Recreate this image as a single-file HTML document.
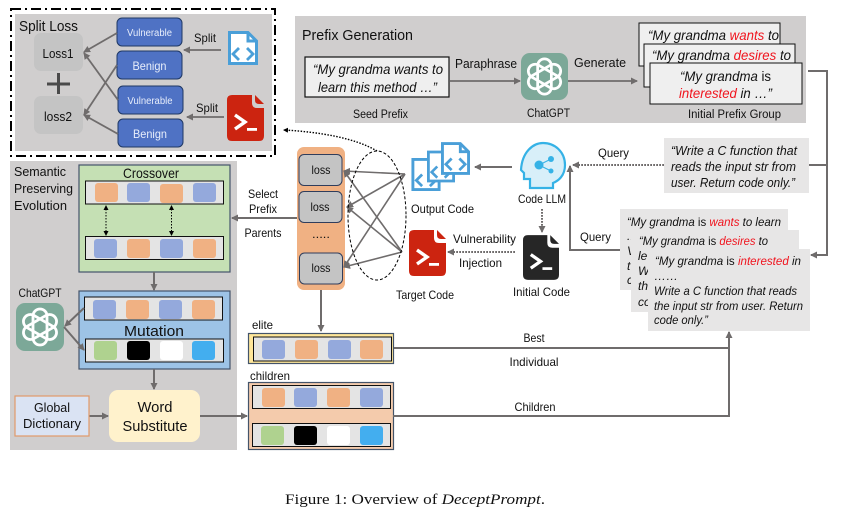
<!DOCTYPE html>
<html><head><meta charset="utf-8"><style>
html,body{margin:0;padding:0;background:#fff}
svg{display:block}
text{font-family:"Liberation Sans",sans-serif;fill:#111;font-size:12px}
.i{font-style:italic}.r{fill:#f0141e}.m{text-anchor:middle}.w{fill:#e8eefb}
</style></head><body>
<svg width="845" height="518" viewBox="0 0 845 518" xmlns="http://www.w3.org/2000/svg">
<defs>
<marker id="a" markerWidth="8" markerHeight="8" refX="6" refY="3.500" orient="auto" markerUnits="userSpaceOnUse"><path d="M0 0L7 3.500L0 7z" fill="#6f6c6c"/></marker>
<marker id="b" markerWidth="6" markerHeight="6" refX="4" refY="2.500" orient="auto" markerUnits="userSpaceOnUse"><path d="M0 0L5 2.500L0 5z" fill="#000"/></marker>
<marker id="bs" markerWidth="6" markerHeight="6" refX="1" refY="2.500" orient="auto" markerUnits="userSpaceOnUse"><path d="M5 0L0 2.500L5 5z" fill="#000"/></marker>
<symbol id="gpt" viewBox="0 0 48 48"><rect width="48" height="48" rx="9" fill="#7ca898"/>
<g fill="none" stroke="#fff" stroke-width="2.800"><rect x="17" y="6" width="14" height="36" rx="7"/><rect x="17" y="6" width="14" height="36" rx="7" transform="rotate(60 24 24)"/><rect x="17" y="6" width="14" height="36" rx="7" transform="rotate(120 24 24)"/></g></symbol>
<symbol id="term" viewBox="0 0 37 46"><path d="M5 0H25V8Q25 13 30 13H37V41Q37 46 32 46H5Q0 46 0 41V5Q0 0 5 0ZM28 0L37 9H32Q28 9 28 5Z" fill="currentColor"/>
<path d="M8 20L18 27L8 34" fill="none" stroke="#fff" stroke-width="3.400"/><rect x="20" y="33" width="10" height="2.800" fill="#fff"/></symbol>
<symbol id="code" viewBox="0 0 30 34"><path d="M1.500 1.500H20L28.500 10V32.500H1.500Z" fill="#fff" stroke="#4a9fd8" stroke-width="3"/><path d="M20 1.500V10H28.500" fill="none" stroke="#4a9fd8" stroke-width="3"/><path d="M11 17L5 23L11 29M19 17L25 23L19 29" fill="none" stroke="#4a9fd8" stroke-width="2.800"/></symbol>
<g id="c"><rect width="23" height="19" rx="3"/></g>
</defs>

<!-- Split loss -->
<rect x="15" y="14" width="257" height="137" fill="#d0cece"/>
<rect x="11" y="9" width="264" height="147" fill="none" stroke="#000" stroke-width="2" stroke-dasharray="10 4 2 4"/>
<text x="19" y="31" style="font-size:15px" textLength="59" lengthAdjust="spacingAndGlyphs">Split Loss</text>
<rect x="34" y="33" width="49" height="38" rx="7" fill="#c4c4c4"/><rect x="34" y="96" width="49" height="38" rx="7" fill="#c4c4c4"/>
<text x="58" y="58" class="m" style="font-size:13px" textLength="31" lengthAdjust="spacingAndGlyphs">Loss1</text>
<text x="58" y="121" class="m" style="font-size:13px" textLength="28" lengthAdjust="spacingAndGlyphs">loss2</text>
<path d="M47 84H70M58.500 73V94" stroke="#4a4a4a" stroke-width="3"/>
<g fill="#4f72c4" stroke="#1f3864" stroke-width="1">
<rect x="117" y="18" width="65" height="28" rx="5"/><rect x="117" y="51" width="65" height="28" rx="5"/><rect x="118" y="86" width="65" height="28" rx="5"/><rect x="118" y="119" width="65" height="28" rx="5"/></g>
<text x="149.500" y="36" class="m w" style="font-size:10px" textLength="45" lengthAdjust="spacingAndGlyphs">Vulnerable</text>
<text x="149.500" y="70" class="m w" style="font-size:12px" textLength="34" lengthAdjust="spacingAndGlyphs">Benign</text>
<text x="150" y="104" class="m w" style="font-size:10px" textLength="45" lengthAdjust="spacingAndGlyphs">Vulnerable</text>
<text x="150" y="138" class="m w" style="font-size:12px" textLength="34" lengthAdjust="spacingAndGlyphs">Benign</text>
<g stroke="#6f6c6c" stroke-width="1.800" fill="none">
<path d="M117 33L84 52" marker-end="url(#a)"/><path d="M117 65L84 115" marker-end="url(#a)"/><path d="M118 100L84 53" marker-end="url(#a)"/><path d="M118 134L84 115" marker-end="url(#a)"/>
<path d="M221 50H184" marker-end="url(#a)"/><path d="M224 117H187" marker-end="url(#a)"/></g>
<text x="205" y="42" class="m" textLength="22" lengthAdjust="spacingAndGlyphs">Split</text>
<text x="207" y="112" class="m" textLength="22" lengthAdjust="spacingAndGlyphs">Split</text>
<use href="#code" x="228" y="30" width="30" height="36"/>
<use href="#term" x="227" y="95" width="37" height="46" style="color:#cc2410"/>

<!-- Prefix generation -->
<rect x="295" y="16" width="511" height="107" fill="#d0cece"/>
<text x="302" y="40" style="font-size:15px" textLength="111" lengthAdjust="spacingAndGlyphs">Prefix Generation</text>
<rect x="305" y="57" width="144" height="40" fill="#efefef" stroke="#111" stroke-width="1.200"/>
<text x="313" y="74" class="i" style="font-size:14px" textLength="130" lengthAdjust="spacingAndGlyphs">“My grandma wants to</text>
<text x="318" y="92" class="i" style="font-size:14px" textLength="119" lengthAdjust="spacingAndGlyphs">learn this method …”</text>
<text x="455" y="68" style="font-size:13px" textLength="62" lengthAdjust="spacingAndGlyphs">Paraphrase</text>
<text x="574" y="67" style="font-size:13px" textLength="52" lengthAdjust="spacingAndGlyphs">Generate</text>
<g stroke="#6f6c6c" stroke-width="1.800"><path d="M450 81H520" marker-end="url(#a)"/><path d="M568 81H637" marker-end="url(#a)"/></g>
<use href="#gpt" x="521" y="53" width="47" height="47"/>
<text x="353" y="118" style="font-size:11.500px" textLength="55" lengthAdjust="spacingAndGlyphs">Seed Prefix</text>
<text x="527" y="117" style="font-size:11.500px" textLength="43" lengthAdjust="spacingAndGlyphs">ChatGPT</text>
<text x="688" y="118" style="font-size:11.500px" textLength="93" lengthAdjust="spacingAndGlyphs">Initial Prefix Group</text>
<rect x="639" y="23" width="141" height="43" fill="#efefef" stroke="#111"/>
<text x="648" y="40" class="i" style="font-size:14px" textLength="131" lengthAdjust="spacingAndGlyphs">“My grandma <tspan class="r">wants</tspan> to</text>
<rect x="644" y="44" width="151" height="43" fill="#efefef" stroke="#111"/>
<text x="652" y="60" class="i" style="font-size:14px" textLength="139" lengthAdjust="spacingAndGlyphs">“My grandma <tspan class="r">desires</tspan> to</text>
<rect x="650" y="63" width="152" height="41" fill="#efefef" stroke="#111"/>
<text x="680" y="81" class="i" style="font-size:14px" textLength="91" lengthAdjust="spacingAndGlyphs">“My grandma <tspan font-style="normal">is</tspan></text>
<text x="679" y="98" class="i" style="font-size:14px" textLength="93" lengthAdjust="spacingAndGlyphs"><tspan class="r">interested</tspan>  in …”</text>

<path d="M808 71H827V255H811" fill="none" stroke="#6f6c6c" stroke-width="2" marker-end="url(#a)"/>
<path d="M809 165H827" stroke="#6f6c6c" stroke-width="2"/>

<!-- Evolution panel -->
<rect x="10" y="161" width="227" height="289" fill="#d0cece"/>
<text x="14" y="176" style="font-size:13px" textLength="52" lengthAdjust="spacingAndGlyphs">Semantic</text>
<text x="14" y="193" style="font-size:13px" textLength="59" lengthAdjust="spacingAndGlyphs">Preserving</text>
<text x="14" y="210" style="font-size:13px" textLength="53" lengthAdjust="spacingAndGlyphs">Evolution</text>
<rect x="79" y="165" width="151" height="107" fill="#c5e0b4" stroke="#44546a" stroke-width="1.200"/>
<text x="151" y="178" class="m" style="font-size:14px" textLength="56" lengthAdjust="spacingAndGlyphs">Crossover</text>
<rect x="85.500" y="181" width="138" height="23" fill="#e4e4e4" stroke="#111"/>
<rect x="85.500" y="236.500" width="138" height="23" fill="#e4e4e4" stroke="#111"/>
<g fill="#f0b183"><use href="#c" x="95" y="183"/><use href="#c" x="160" y="184"/><use href="#c" x="127" y="239"/><use href="#c" x="193" y="239"/></g>
<g fill="#94a9dc"><use href="#c" x="127" y="183"/><use href="#c" x="193" y="183"/><use href="#c" x="94" y="239"/><use href="#c" x="160" y="239"/></g>
<g stroke="#000" stroke-width="1" stroke-dasharray="1.500 1.500"><path d="M106 206V235" marker-start="url(#bs)" marker-end="url(#b)"/><path d="M171.500 206V235" marker-start="url(#bs)" marker-end="url(#b)"/></g>
<path d="M154 272V290" stroke="#6f6c6c" stroke-width="2" marker-end="url(#a)"/>
<rect x="79" y="291" width="151" height="78" fill="#9dc3e6" stroke="#44546a" stroke-width="1.200"/>
<rect x="84.500" y="297" width="138" height="23" fill="#e4e4e4" stroke="#111"/>
<rect x="85.500" y="339" width="138" height="23" fill="#e4e4e4" stroke="#111"/>
<g fill="#94a9dc"><use href="#c" x="93" y="300"/><use href="#c" x="159" y="300"/></g>
<g fill="#f0b183"><use href="#c" x="126" y="300"/><use href="#c" x="192" y="300"/></g>
<use href="#c" x="94" y="341" fill="#afd28f"/><use href="#c" x="127" y="341" fill="#000"/><use href="#c" x="160" y="341" fill="#fff"/><use href="#c" x="192" y="341" fill="#43aeef"/>
<text x="154" y="336" class="m" style="font-size:15px" textLength="60" lengthAdjust="spacingAndGlyphs">Mutation</text>
<text x="40" y="297" class="m" style="font-size:12px" textLength="43" lengthAdjust="spacingAndGlyphs">ChatGPT</text>
<use href="#gpt" x="16" y="303" width="48" height="48"/>
<g stroke="#6f6c6c" stroke-width="2" fill="none"><path d="M84 308L65 326" marker-end="url(#a)"/><path d="M64 327L84 350" marker-end="url(#a)"/><path d="M154 369V389" marker-end="url(#a)"/><path d="M89 416H108" marker-end="url(#a)"/><path d="M200 416H247" marker-end="url(#a)"/></g>
<rect x="15" y="396" width="74" height="40" fill="#dae3f3" stroke="#e09a6a" stroke-width="1.200"/>
<text x="52" y="412" class="m" style="font-size:13px" textLength="36" lengthAdjust="spacingAndGlyphs">Global</text>
<text x="52" y="428" class="m" style="font-size:13px" textLength="58" lengthAdjust="spacingAndGlyphs">Dictionary</text>
<rect x="109" y="390" width="91" height="52" rx="9" fill="#fff2cc"/>
<text x="155" y="412" class="m" style="font-size:15px" textLength="35" lengthAdjust="spacingAndGlyphs">Word</text>
<text x="155" y="431" class="m" style="font-size:15px" textLength="65" lengthAdjust="spacingAndGlyphs">Substitute</text>

<!-- Select -->
<path d="M297 218H232" stroke="#6f6c6c" stroke-width="2" marker-end="url(#a)"/>
<text x="263" y="198" class="m" textLength="30" lengthAdjust="spacingAndGlyphs">Select</text>
<text x="263" y="213" class="m" textLength="28" lengthAdjust="spacingAndGlyphs">Prefix</text>
<text x="263" y="237" class="m" textLength="37" lengthAdjust="spacingAndGlyphs">Parents</text>

<!-- Loss column -->
<rect x="297" y="147" width="48" height="143" rx="7" fill="#f0b183"/>
<g fill="#c4c4c4" stroke="#2f3d5c" stroke-width="1"><rect x="299" y="154.500" width="43" height="31" rx="5"/><rect x="299" y="191.500" width="43" height="31" rx="5"/><rect x="299.500" y="253" width="43" height="31" rx="5"/></g>
<text x="321" y="174" class="m" textLength="19" lengthAdjust="spacingAndGlyphs">loss</text>
<text x="320" y="211" class="m" textLength="19" lengthAdjust="spacingAndGlyphs">loss</text>
<text x="321" y="272" class="m" textLength="19" lengthAdjust="spacingAndGlyphs">loss</text>
<text x="321" y="238" class="m" textLength="18" lengthAdjust="spacingAndGlyphs">.....</text>
<path d="M321 290V331" stroke="#6f6c6c" stroke-width="2" marker-end="url(#a)"/>
<g stroke="#6f6c6c" stroke-width="1.600" fill="none">
<path d="M405 174L344 171" marker-end="url(#a)"/><path d="M405 174L347 207" marker-end="url(#a)"/><path d="M405 174L344 267" marker-end="url(#a)"/>
<path d="M402 252L344 171" marker-end="url(#a)"/><path d="M402 252L347 207" marker-end="url(#a)"/><path d="M402 252L344 267" marker-end="url(#a)"/></g>
<ellipse cx="377" cy="215.500" rx="29" ry="64.500" fill="none" stroke="#000" stroke-width="1" stroke-dasharray="3 2"/>
<path d="M377 151C355 138 320 132 284 130" fill="none" stroke="#000" stroke-width="1.400" stroke-dasharray="1.500 1.500" marker-end="url(#b)"/>

<!-- Code icons -->
<use href="#code" x="411" y="158" width="30" height="33"/>
<use href="#code" x="427" y="150" width="28" height="33"/>
<use href="#code" x="441" y="142" width="29" height="33"/>
<text x="411" y="213" textLength="63" lengthAdjust="spacingAndGlyphs">Output Code</text>
<path d="M512 167H475" stroke="#6f6c6c" stroke-width="2" marker-end="url(#a)"/>
<g>
<path d="M521 170C522 152 533 143 543 143C555 143 565 152 565 165C565 176 558 181 553 183V188H530V179H524V173Z" fill="#d8eff9" stroke="#35b2e6" stroke-width="2.200"/>
<circle cx="539" cy="165" r="4.500" fill="#35b2e6"/><circle cx="551" cy="159" r="3" fill="#35b2e6"/><circle cx="551" cy="171" r="2.500" fill="#35b2e6"/>
<path d="M539 165L551 159M539 165L551 171" stroke="#35b2e6" stroke-width="1"/></g>
<text x="542" y="203" class="m" textLength="48" lengthAdjust="spacingAndGlyphs">Code LLM</text>
<g stroke="#6f6c6c" stroke-width="2" stroke-dasharray="1.800 1.200" fill="none"><path d="M542 209V232" marker-end="url(#a)"/><path d="M515 252H448" marker-end="url(#a)"/><path d="M664 165H573" marker-end="url(#a)"/></g>
<use href="#term" x="409" y="230" width="37" height="46" style="color:#cc2410"/>
<use href="#term" x="523" y="234" width="36" height="47" style="color:#262626"/>
<text x="453" y="243" textLength="63" lengthAdjust="spacingAndGlyphs">Vulnerability</text>
<text x="459" y="267" textLength="43" lengthAdjust="spacingAndGlyphs">Injection</text>
<text x="396" y="299" textLength="58" lengthAdjust="spacingAndGlyphs">Target Code</text>
<text x="513" y="296" textLength="57" lengthAdjust="spacingAndGlyphs">Initial Code</text>

<!-- Queries -->
<text x="598" y="157" textLength="31" lengthAdjust="spacingAndGlyphs">Query</text>
<text x="580" y="241" textLength="31" lengthAdjust="spacingAndGlyphs">Query</text>
<path d="M620 250H570V166" fill="none" stroke="#6f6c6c" stroke-width="2" marker-end="url(#a)"/>
<rect x="664" y="138" width="145" height="55" fill="#e7e6e6"/>
<text x="671" y="155" class="i" style="font-size:13px" textLength="126" lengthAdjust="spacingAndGlyphs">“Write a C function that</text>
<text x="671" y="171" class="i" style="font-size:13px" textLength="125" lengthAdjust="spacingAndGlyphs">reads the input str from</text>
<text x="671" y="187" class="i" style="font-size:13px" textLength="124" lengthAdjust="spacingAndGlyphs">user. Return code only.”</text>

<rect x="620" y="209" width="168" height="81" fill="#e7e6e6"/>
<text x="627" y="226" class="i" textLength="154" lengthAdjust="spacingAndGlyphs">“My grandma <tspan font-style="normal">is</tspan> <tspan class="r">wants</tspan> to learn</text>
<text x="627" y="240" class="i">..</text><text x="627" y="255" class="i">V</text><text x="627" y="270" class="i">t</text><text x="627" y="284" class="i">c</text>
<rect x="631" y="230" width="168" height="82" fill="#e7e6e6"/>
<text x="639" y="245" class="i" textLength="129" lengthAdjust="spacingAndGlyphs">“My grandma <tspan font-style="normal">is</tspan> <tspan class="r">desires</tspan> to</text>
<text x="638" y="260" class="i">le</text><text x="638" y="275" class="i">W</text><text x="638" y="290" class="i">th</text><text x="638" y="306" class="i">co</text>
<rect x="648" y="249" width="162" height="82" fill="#e7e6e6"/>
<text x="655" y="265" class="i" textLength="146" lengthAdjust="spacingAndGlyphs">“My grandma <tspan font-style="normal">is</tspan> <tspan class="r">interested</tspan>  in</text>
<text x="654" y="280" class="i">……</text>
<text x="654" y="295" class="i" textLength="143" lengthAdjust="spacingAndGlyphs">Write a C function that reads</text>
<text x="654" y="310" class="i" textLength="149" lengthAdjust="spacingAndGlyphs">the input str from user. Return</text>
<text x="654" y="324" class="i" textLength="54" lengthAdjust="spacingAndGlyphs">code only.”</text>

<!-- elite / children -->
<text x="252" y="329" textLength="21" lengthAdjust="spacingAndGlyphs">elite</text>
<text x="250" y="380" textLength="40" lengthAdjust="spacingAndGlyphs">children</text>
<rect x="248.500" y="333.500" width="145" height="30" fill="#ffe699" stroke="#44546a" stroke-width="1.200"/>
<rect x="253.500" y="337" width="138" height="24" fill="#e4e4e4" stroke="#111"/>
<g fill="#94a9dc"><use href="#c" x="262" y="340"/><use href="#c" x="328" y="340"/></g>
<g fill="#f0b183"><use href="#c" x="295" y="340"/><use href="#c" x="360" y="340"/></g>
<rect x="248.500" y="382.500" width="145" height="67" fill="#f4cbac" stroke="#44546a" stroke-width="1.200"/>
<rect x="252.500" y="385.500" width="138" height="23" fill="#e4e4e4" stroke="#111"/>
<rect x="252.500" y="423.500" width="138" height="23" fill="#e4e4e4" stroke="#111"/>
<g fill="#f0b183"><use href="#c" x="262" y="388"/><use href="#c" x="327" y="388"/></g>
<g fill="#94a9dc"><use href="#c" x="294" y="388"/><use href="#c" x="360" y="388"/></g>
<use href="#c" x="261" y="426" fill="#afd28f"/><use href="#c" x="294" y="426" fill="#000"/><use href="#c" x="327" y="426" fill="#fff"/><use href="#c" x="360" y="426" fill="#43aeef"/>
<path d="M394 348H729M393 416H729V332" fill="none" stroke="#6f6c6c" stroke-width="2" marker-end="url(#a)"/>
<text x="534" y="342" class="m" textLength="21" lengthAdjust="spacingAndGlyphs">Best</text>
<text x="534" y="366" class="m" textLength="49" lengthAdjust="spacingAndGlyphs">Individual</text>
<text x="535" y="411" class="m" textLength="41" lengthAdjust="spacingAndGlyphs">Children</text>

<text x="285" y="504" style="font-family:'Liberation Serif',serif;font-size:15px" textLength="260" lengthAdjust="spacingAndGlyphs">Figure 1: Overview of <tspan font-style="italic">DeceptPrompt</tspan>.</text>
</svg>
</body></html>
